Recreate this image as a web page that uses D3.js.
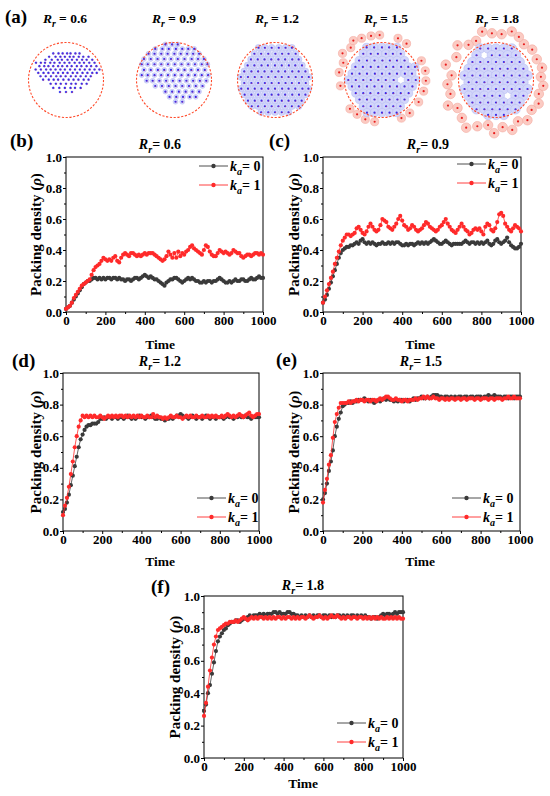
<!DOCTYPE html>
<html>
<head>
<meta charset="utf-8">
<script src="https://cdn.jsdelivr.net/npm/d3@7"></script>
<style>
  body { margin: 0; background: #fff; }
  svg text { font-family: "Liberation Serif", "Times New Roman", serif; font-weight: bold; fill: #000; }
</style>
</head>
<body>
<svg id="fig" width="550" height="796"></svg>
<script>
// ---- DATA ----
const times = [0,10,20,30,40,50,60,70,80,90,100,110,120,130,140,150,160,170,180,190,
  200,210,220,230,240,250,260,270,280,290,300,310,320,330,340,350,360,370,380,390,
  400,410,420,430,440,450,460,470,480,490,500,510,520,530,540,550,560,570,580,590,
  600,610,620,630,640,650,660,670,680,690,700,710,720,730,740,750,760,770,780,790,
  800,810,820,830,840,850,860,870,880,890,900,910,920,930,940,950,960,970,980,990,1000];

// packing density, k_a = 0 and k_a = 1, per R_r
const rho06_k0 = [0.02,0.03,0.04,0.06,0.08,0.10,0.12,0.14,0.16,0.18,
  0.19,0.20,0.20,0.21,0.22,0.22,0.21,0.22,0.21,0.22,
  0.21,0.22,0.22,0.21,0.22,0.22,0.21,0.22,0.21,0.21,
  0.20,0.21,0.21,0.20,0.21,0.22,0.22,0.21,0.22,0.23,
  0.24,0.23,0.22,0.23,0.22,0.21,0.21,0.20,0.19,0.18,
  0.17,0.19,0.20,0.21,0.21,0.22,0.22,0.21,0.20,0.19,
  0.20,0.21,0.22,0.21,0.22,0.21,0.20,0.20,0.19,0.19,
  0.20,0.19,0.20,0.20,0.19,0.20,0.20,0.21,0.22,0.21,
  0.20,0.19,0.19,0.20,0.19,0.20,0.21,0.20,0.20,0.21,
  0.21,0.20,0.20,0.21,0.22,0.21,0.21,0.22,0.23,0.22,0.22];
const rho06_k1 = [0.02,0.03,0.04,0.06,0.09,0.11,0.13,0.15,0.17,0.18,
  0.19,0.20,0.21,0.24,0.27,0.29,0.30,0.31,0.33,0.35,
  0.34,0.33,0.34,0.33,0.35,0.36,0.33,0.32,0.35,0.37,
  0.38,0.37,0.36,0.38,0.38,0.37,0.36,0.37,0.36,0.37,
  0.38,0.37,0.38,0.38,0.38,0.37,0.36,0.35,0.34,0.33,
  0.34,0.36,0.39,0.37,0.35,0.38,0.35,0.39,0.36,0.38,
  0.37,0.39,0.40,0.42,0.43,0.41,0.40,0.39,0.38,0.37,
  0.40,0.43,0.42,0.39,0.37,0.36,0.36,0.38,0.40,0.39,
  0.38,0.39,0.38,0.37,0.38,0.40,0.39,0.38,0.38,0.36,
  0.35,0.36,0.37,0.37,0.36,0.37,0.38,0.38,0.37,0.38,0.37];
const rho09_k0 = [0.06,0.08,0.11,0.15,0.19,0.23,0.27,0.31,0.35,0.38,
  0.40,0.41,0.42,0.42,0.43,0.43,0.44,0.45,0.44,0.46,
  0.47,0.45,0.44,0.45,0.44,0.45,0.44,0.43,0.44,0.44,
  0.45,0.44,0.44,0.45,0.44,0.45,0.44,0.45,0.45,0.44,
  0.43,0.43,0.44,0.43,0.44,0.44,0.43,0.44,0.45,0.44,
  0.45,0.44,0.45,0.44,0.45,0.46,0.47,0.46,0.45,0.44,
  0.44,0.45,0.46,0.45,0.44,0.43,0.44,0.44,0.44,0.44,
  0.44,0.45,0.46,0.45,0.44,0.45,0.45,0.44,0.45,0.44,
  0.45,0.44,0.45,0.46,0.44,0.43,0.44,0.46,0.47,0.45,
  0.44,0.45,0.46,0.48,0.45,0.43,0.42,0.41,0.41,0.42,0.44];
const rho09_k1 = [0.06,0.10,0.14,0.18,0.22,0.26,0.31,0.35,0.39,0.43,
  0.46,0.48,0.50,0.50,0.49,0.50,0.51,0.54,0.55,0.53,
  0.51,0.50,0.52,0.55,0.57,0.55,0.53,0.52,0.53,0.56,
  0.60,0.59,0.58,0.55,0.54,0.53,0.55,0.57,0.60,0.62,
  0.59,0.56,0.55,0.53,0.54,0.56,0.55,0.53,0.52,0.53,
  0.54,0.56,0.58,0.57,0.55,0.54,0.53,0.52,0.53,0.55,
  0.56,0.58,0.60,0.57,0.55,0.53,0.52,0.51,0.53,0.55,
  0.57,0.55,0.53,0.52,0.50,0.51,0.53,0.54,0.53,0.54,
  0.52,0.50,0.55,0.57,0.56,0.53,0.52,0.54,0.58,0.63,
  0.64,0.62,0.57,0.55,0.53,0.52,0.54,0.56,0.55,0.54,0.52];
const rho12_k0 = [0.12,0.14,0.18,0.23,0.29,0.35,0.41,0.47,0.53,0.58,
  0.61,0.64,0.66,0.67,0.67,0.68,0.68,0.68,0.69,0.71,
  0.71,0.72,0.71,0.72,0.72,0.71,0.72,0.72,0.71,0.72,
  0.72,0.71,0.72,0.73,0.72,0.71,0.72,0.71,0.72,0.73,
  0.72,0.72,0.71,0.72,0.72,0.73,0.72,0.71,0.71,0.72,
  0.71,0.71,0.70,0.71,0.71,0.72,0.71,0.72,0.73,0.73,
  0.74,0.73,0.72,0.72,0.71,0.72,0.73,0.72,0.71,0.72,
  0.72,0.71,0.72,0.73,0.72,0.71,0.72,0.72,0.71,0.72,
  0.72,0.72,0.71,0.72,0.73,0.72,0.72,0.71,0.72,0.72,
  0.73,0.72,0.72,0.73,0.72,0.72,0.71,0.72,0.72,0.72,0.72];
const rho12_k1 = [0.10,0.16,0.21,0.28,0.36,0.44,0.53,0.60,0.66,0.70,
  0.73,0.72,0.73,0.72,0.73,0.72,0.73,0.72,0.72,0.73,
  0.72,0.71,0.72,0.73,0.72,0.73,0.72,0.73,0.72,0.73,
  0.73,0.72,0.73,0.72,0.73,0.72,0.73,0.72,0.73,0.72,
  0.73,0.72,0.72,0.73,0.72,0.72,0.74,0.72,0.73,0.72,
  0.72,0.71,0.72,0.71,0.72,0.73,0.72,0.72,0.73,0.72,
  0.72,0.71,0.72,0.73,0.72,0.73,0.72,0.72,0.73,0.72,
  0.72,0.73,0.72,0.72,0.73,0.72,0.73,0.72,0.73,0.72,
  0.72,0.73,0.72,0.73,0.74,0.73,0.72,0.73,0.72,0.73,
  0.74,0.73,0.72,0.73,0.74,0.75,0.73,0.72,0.73,0.74,0.74];
const rho15_k0 = [0.20,0.24,0.30,0.38,0.44,0.51,0.60,0.66,0.71,0.75,
  0.79,0.80,0.81,0.81,0.82,0.81,0.82,0.82,0.83,0.83,
  0.83,0.84,0.83,0.82,0.83,0.82,0.81,0.82,0.83,0.82,
  0.83,0.84,0.83,0.84,0.83,0.83,0.82,0.83,0.82,0.83,
  0.83,0.82,0.83,0.83,0.82,0.83,0.84,0.83,0.84,0.84,
  0.85,0.84,0.84,0.85,0.84,0.85,0.86,0.86,0.86,0.85,
  0.85,0.84,0.85,0.85,0.84,0.85,0.84,0.85,0.84,0.85,
  0.85,0.84,0.85,0.85,0.84,0.85,0.85,0.84,0.85,0.85,
  0.85,0.84,0.85,0.85,0.86,0.85,0.85,0.86,0.85,0.85,
  0.85,0.84,0.85,0.85,0.84,0.85,0.85,0.84,0.85,0.85,0.85];
const rho15_k1 = [0.18,0.26,0.33,0.42,0.48,0.59,0.69,0.74,0.78,0.81,
  0.81,0.81,0.81,0.82,0.81,0.82,0.82,0.83,0.82,0.83,
  0.83,0.82,0.83,0.83,0.82,0.83,0.83,0.82,0.83,0.84,
  0.83,0.84,0.85,0.85,0.84,0.83,0.83,0.84,0.83,0.83,
  0.82,0.83,0.83,0.82,0.83,0.83,0.83,0.84,0.83,0.84,
  0.84,0.85,0.84,0.85,0.84,0.84,0.85,0.84,0.84,0.83,
  0.84,0.84,0.83,0.84,0.83,0.84,0.84,0.83,0.84,0.84,
  0.83,0.84,0.84,0.83,0.84,0.84,0.84,0.83,0.84,0.84,
  0.83,0.84,0.84,0.84,0.83,0.84,0.84,0.83,0.84,0.84,
  0.84,0.83,0.84,0.84,0.85,0.84,0.84,0.85,0.84,0.84,0.84];
const rho18_k0 = [0.29,0.33,0.40,0.45,0.52,0.59,0.66,0.72,0.75,0.77,
  0.79,0.80,0.82,0.83,0.84,0.84,0.85,0.85,0.84,0.85,
  0.86,0.86,0.87,0.88,0.87,0.88,0.88,0.88,0.89,0.88,
  0.89,0.88,0.89,0.89,0.89,0.90,0.90,0.89,0.90,0.89,
  0.89,0.89,0.90,0.90,0.89,0.89,0.88,0.88,0.87,0.88,
  0.87,0.88,0.87,0.88,0.87,0.88,0.87,0.88,0.88,0.87,
  0.88,0.88,0.87,0.88,0.87,0.88,0.87,0.88,0.88,0.87,
  0.88,0.87,0.88,0.87,0.88,0.88,0.87,0.88,0.87,0.88,
  0.87,0.88,0.87,0.87,0.86,0.87,0.87,0.86,0.87,0.88,
  0.89,0.88,0.89,0.89,0.88,0.89,0.90,0.89,0.90,0.90,0.90];
const rho18_k1 = [0.26,0.34,0.44,0.54,0.62,0.70,0.75,0.79,0.80,0.81,
  0.82,0.83,0.83,0.84,0.84,0.84,0.85,0.84,0.85,0.86,
  0.87,0.86,0.85,0.86,0.87,0.86,0.87,0.86,0.87,0.87,
  0.86,0.87,0.86,0.87,0.86,0.87,0.86,0.87,0.87,0.86,
  0.87,0.86,0.87,0.87,0.86,0.87,0.86,0.87,0.86,0.87,
  0.87,0.86,0.87,0.88,0.87,0.86,0.87,0.87,0.88,0.87,
  0.86,0.87,0.86,0.87,0.88,0.87,0.87,0.88,0.87,0.86,
  0.87,0.86,0.87,0.87,0.86,0.87,0.87,0.86,0.87,0.87,
  0.86,0.87,0.86,0.87,0.86,0.87,0.86,0.87,0.86,0.87,
  0.86,0.86,0.87,0.86,0.87,0.86,0.87,0.86,0.87,0.86,0.86];

const rrLabels = ["0.6", "0.9", "1.2", "1.5", "1.8"];
const xTicks = [0, 200, 400, 600, 800, 1000];
const xMinor = [100, 300, 500, 700, 900];
const yTicks = [0, 0.2, 0.4, 0.6, 0.8, 1.0];
const yMinor = [0.1, 0.3, 0.5, 0.7, 0.9];
const legendKa = ["0", "1"];

// snapshot particles, boundary radius = 1; rows: [y, x, x, ...]
const snap06 = [
  [-0.71, -0.34,-0.20,-0.09,0.03,0.12,0.25,0.36],
  [-0.62, -0.45,-0.28,-0.15,-0.03,0.10,0.20,0.34,0.46,0.60],
  [-0.54, -0.55,-0.38,-0.22,-0.11,0.04,0.16,0.29,0.43,0.55,0.70],
  [-0.46, -0.80,-0.67,-0.56,-0.42,-0.31,-0.17,-0.04,0.09,0.23,0.36,0.48,0.62,0.76],
  [-0.37, -0.71,-0.58,-0.47,-0.34,-0.21,-0.10,0.03,0.15,0.29,0.41,0.55,0.67,0.81],
  [-0.28, -0.81,-0.67,-0.53,-0.41,-0.28,-0.15,-0.03,0.11,0.24,0.37,0.50,0.63,0.76,0.89],
  [-0.19, -0.74,-0.60,-0.47,-0.34,-0.21,-0.08,0.04,0.18,0.30,0.44,0.57,0.70,0.82],
  [-0.10, -0.68,-0.54,-0.40,-0.26,-0.14,-0.01,0.13,0.26,0.39,0.53,0.66],
  [-0.01, -0.61,-0.46,-0.33,-0.21,-0.07,0.07,0.20,0.33,0.47,0.60],
  [0.10, -0.41,-0.27,-0.14,0.00,0.14,0.26,0.42,0.55],
  [0.21, -0.34,-0.18,-0.03,0.12,0.24,0.39],
  [0.32, -0.16,0.00,0.16]
];
const snap09 = [
  [-0.95, -0.23,-0.05,0.10],
  [-0.83, -0.50,-0.31,-0.14,0.05,0.22,0.38,0.54],
  [-0.70, -0.68,-0.52,-0.34,-0.17,0.01,0.18,0.35,0.51,0.67],
  [-0.56, -0.80,-0.62,-0.44,-0.26,-0.08,0.10,0.28,0.47,0.64,0.80],
  [-0.42, -0.86,-0.70,-0.52,-0.34,-0.16,0.02,0.20,0.38,0.56,0.74,0.89],
  [-0.27, -0.80,-0.62,-0.43,-0.26,-0.08,0.11,0.28,0.46,0.64,0.82],
  [-0.13, -0.86,-0.70,-0.52,-0.34,-0.16,0.02,0.20,0.38,0.56,0.74,0.91],
  [0.02, -0.73,-0.57,-0.39,-0.21,-0.03,0.15,0.33,0.51,0.69,0.86],
  [0.16, -0.50,-0.32,-0.14,0.04,0.22,0.40,0.58,0.76],
  [0.31, -0.23,-0.05,0.13,0.31,0.49,0.67],
  [0.45, -0.12,0.06,0.24,0.42,0.58],
  [0.58, 0.04,0.22]
];
const snap12 = [
  [-0.86, -0.44,-0.27,-0.09,0.10,0.28,0.45],
  [-0.70, -0.55,-0.37,-0.18,0.01,0.19,0.36,0.55],
  [-0.55, -0.64,-0.46,-0.28,-0.10,0.09,0.27,0.46,0.63],
  [-0.39, -0.73,-0.55,-0.36,-0.19,0.00,0.18,0.37,0.54,0.72],
  [-0.23, -0.82,-0.63,-0.45,-0.28,-0.09,0.09,0.27,0.46,0.63,0.81],
  [-0.08, -0.91,-0.72,-0.54,-0.36,-0.18,0.01,0.18,0.36,0.55,0.72,0.90],
  [0.08, -0.82,-0.63,-0.45,-0.27,-0.09,0.10,0.28,0.45,0.64,0.82],
  [0.23, -0.90,-0.72,-0.54,-0.36,-0.18,0.00,0.19,0.36,0.54,0.73,0.89],
  [0.39, -0.81,-0.63,-0.45,-0.27,-0.09,0.09,0.27,0.46,0.64,0.81],
  [0.55, -0.72,-0.54,-0.36,-0.18,0.00,0.18,0.36,0.54,0.71],
  [0.70, -0.62,-0.45,-0.27,-0.09,0.09,0.27,0.45,0.63],
  [0.86, -0.37,-0.18,0.00,0.18,0.36]
];
const snap15 = [
  [-0.87, -0.41,-0.21,0.00,0.19,0.40],
  [-0.70, -0.50,-0.30,-0.11,0.10,0.29,0.50],
  [-0.52, -0.61,-0.40,-0.20,0.01,0.21,0.40,0.60],
  [-0.35, -0.71,-0.51,-0.30,-0.10,0.11,0.30,0.51,0.70,0.88],
  [-0.17, -0.80,-0.60,-0.40,-0.19,0.00,0.20,0.40,0.61,0.80],
  [0.00, -0.90,-0.70,-0.50,-0.30,-0.10,0.10,0.31,0.70,0.90],
  [0.17, -0.80,-0.61,-0.40,-0.20,0.00,0.21,0.40,0.60,0.81],
  [0.35, -0.70,-0.50,-0.31,-0.10,0.10,0.30,0.50,0.71],
  [0.52, -0.60,-0.40,-0.20,0.00,0.20,0.41,0.60],
  [0.70, -0.50,-0.30,-0.10,0.11,0.30,0.49],
  [0.87, -0.40,-0.20,0.00,0.20,0.39]
];
const snap18 = [
  [-0.84, -0.42,-0.21,0.00,0.21,0.42],
  [-0.66, -0.52,-0.11,0.10,0.31,0.53],
  [-0.48, -0.63,-0.42,-0.21,0.00,0.21,0.42,0.63],
  [-0.30, -0.73,-0.52,-0.31,-0.10,0.11,0.31,0.52,0.73],
  [-0.12, -0.84,-0.63,-0.42,-0.21,0.00,0.21,0.42,0.63,0.84],
  [0.06, -0.73,-0.52,-0.31,-0.10,0.10,0.31,0.52,0.73],
  [0.24, -0.84,-0.63,-0.42,-0.21,0.00,0.21,0.42,0.63,0.84],
  [0.42, -0.73,-0.52,-0.31,-0.10,0.10,0.52,0.73],
  [0.60, -0.63,-0.42,-0.21,0.00,0.21,0.42,0.63],
  [0.78, -0.52,-0.31,-0.10,0.10,0.31,0.52],
  [0.93, -0.21,0.00,0.21]
];
// particles outside the boundary: [angle in degrees clockwise from top, radius]
const outer15 = [[-56,1.27],[-44,1.20],[-36,1.30],[-26,1.24],[-14,1.21],[-3,1.20],[21,1.19],
  [34,1.17],[64,1.17],[78,1.18],[91,1.17],[105,1.15],[121,1.14],[140,1.15],[153,1.14],
  [190,1.13],[203,1.14],[216,1.13],[228,1.15],[262,1.12],[280,1.16],[294,1.13]];
const outer18 = [[-5,1.25],[7,1.23],[18,1.36],[-16,1.34],[-27,1.17],[-38,1.19],[-48,1.38],
  [-60,1.22],[-73,1.40],[-84,1.19],[-95,1.30],[-107,1.27],[-118,1.45],[-126,1.27],[-138,1.36],
  [-148,1.50],[-158,1.33],[-170,1.22],[-178,1.42],[172,1.27],[162,1.40],[152,1.25],[142,1.36],
  [130,1.24],[119,1.30],[108,1.20],[97,1.27],[86,1.20],[75,1.27],[63,1.22],[50,1.26],[38,1.21],[28,1.30]];

// ---- LAYOUT ----
const svg = d3.select("#fig");
const black = "#3a3a3a", red = "#ff2a2a";

function symText(g, x, y, base, sub, rest, size, anchor) {
  const t = g.append("text").attr("x", x).attr("y", y)
    .attr("font-size", size).attr("text-anchor", anchor || "start");
  t.append("tspan").attr("font-style", "italic").text(base);
  t.append("tspan").attr("font-style", "italic").attr("font-size", size * 0.72)
    .attr("dy", size * 0.28).text(sub);
  t.append("tspan").attr("dy", -size * 0.28).text(rest);
  return t;
}

// (a) snapshots
svg.append("text").attr("x", 5).attr("y", 23).attr("font-size", 19).text("(a)");
const snapR = 37.5, snapCy = 80;
const snapshots = [
  {rows: snap06, outer: [], cx: 66, tx: 65, halo: 1.1},
  {rows: snap09, outer: [], cx: 174, tx: 174, halo: 2.4},
  {rows: snap12, outer: [], cx: 275, tx: 277, halo: 3.3},
  {rows: snap15, outer: outer15, cx: 382, tx: 386, halo: 4.1},
  {rows: snap18, outer: outer18, cx: 496, tx: 497, halo: 4.8}
];
snapshots.forEach((s, i) => {
  const g = svg.append("g");
  const sx = d3.scaleLinear().domain([-1, 1]).range([s.cx - snapR, s.cx + snapR]);
  const sy = d3.scaleLinear().domain([-1, 1]).range([snapCy - snapR, snapCy + snapR]);
  const pts = s.rows.flatMap(r => r.slice(1).map(x => [x, r[0]]));
  const out = s.outer.map(d => d3.pointRadial(d[0] * Math.PI / 180, d[1]));

  g.selectAll(".ohalo").data(out).join("circle")
    .attr("cx", d => sx(d[0])).attr("cy", d => sy(d[1])).attr("r", s.halo)
    .attr("fill", "#fbcbc3").attr("stroke", "#f4a89e").attr("stroke-width", 0.6);
  g.selectAll(".halo").data(pts).join("circle")
    .attr("cx", d => sx(d[0])).attr("cy", d => sy(d[1])).attr("r", s.halo)
    .attr("fill", "#d3d6fa").attr("stroke", "#b9bef4").attr("stroke-width", 0.6);
  g.append("circle").attr("cx", s.cx).attr("cy", snapCy).attr("r", snapR)
    .attr("fill", "none").attr("stroke", "#ff4a2a").attr("stroke-width", 1.1)
    .attr("stroke-dasharray", "2.2,1.6");
  g.selectAll(".odot").data(out).join("circle")
    .attr("cx", d => sx(d[0])).attr("cy", d => sy(d[1])).attr("r", 1.1)
    .attr("fill", "#e81c1c");
  g.selectAll(".dot").data(pts).join("circle")
    .attr("cx", d => sx(d[0])).attr("cy", d => sy(d[1])).attr("r", 1.1)
    .attr("fill", "#2a2af0");
  g.selectAll(".core").data(pts).join("circle")
    .attr("cx", d => sx(d[0]) + 0.5).attr("cy", d => sy(d[1]) + 0.3).attr("r", 0.5)
    .attr("fill", "#d8306a");

  symText(svg, s.tx, 23, "R", "r", " = " + rrLabels[i], 13.5, "middle");
});

// (b)-(f) time series
const panels = [
  {id: "(b)", k0: rho06_k0, k1: rho06_k1, x0: 66, x1: 263, y0: 157, y1: 312,
   lab: [10, 147], title: [160, 149], ylab: 41, xlab: [160, 349], leg: [199, 166]},
  {id: "(c)", k0: rho09_k0, k1: rho09_k1, x0: 323, x1: 521, y0: 157, y1: 312,
   lab: [269, 147], title: [428, 149], ylab: 299, xlab: [420, 349], leg: [457, 164]},
  {id: "(d)", k0: rho12_k0, k1: rho12_k1, x0: 63, x1: 259, y0: 373, y1: 531,
   lab: [12, 367], title: [160, 366], ylab: 41, xlab: [160, 566], leg: [197, 498]},
  {id: "(e)", k0: rho15_k0, k1: rho15_k1, x0: 323, x1: 520, y0: 373, y1: 531,
   lab: [276, 366], title: [421, 366], ylab: 299, xlab: [420, 566], leg: [452, 498]},
  {id: "(f)", k0: rho18_k0, k1: rho18_k1, x0: 204, x1: 403, y0: 596, y1: 758,
   lab: [151, 593], title: [303, 590], ylab: 180, xlab: [303, 788], leg: [337, 723]}
];

function styleAxis(a) {
  a.select(".domain").remove();
  a.attr("font-family", null).attr("font-size", null);
  a.selectAll("line").attr("stroke", "#000");
  a.selectAll("text").attr("font-size", 13).attr("fill", "#000");
}

panels.forEach((p, i) => {
  const g = svg.append("g");
  const x = d3.scaleLinear().domain([0, 1000]).range([p.x0, p.x1]);
  const y = d3.scaleLinear().domain([0, 1]).range([p.y1, p.y0]);

  g.append("g").attr("transform", `translate(0,${p.y1})`)
    .call(d3.axisBottom(x).tickValues(xTicks).tickSize(3).tickPadding(1).tickFormat(d3.format("d")))
    .call(styleAxis);
  g.append("g").attr("transform", `translate(0,${p.y1})`)
    .call(d3.axisBottom(x).tickValues(xMinor).tickSize(2).tickFormat(""))
    .call(styleAxis);
  g.append("g").attr("transform", `translate(${p.x0},0)`)
    .call(d3.axisLeft(y).tickValues(yTicks).tickSize(3).tickPadding(1).tickFormat(d3.format(".1f")))
    .call(styleAxis);
  g.append("g").attr("transform", `translate(${p.x0},0)`)
    .call(d3.axisLeft(y).tickValues(yMinor).tickSize(2).tickFormat(""))
    .call(styleAxis);

  g.append("rect").attr("x", p.x0).attr("y", p.y0)
    .attr("width", p.x1 - p.x0).attr("height", p.y1 - p.y0)
    .attr("fill", "none").attr("stroke", "#000").attr("stroke-width", 1);

  const line = d3.line().x((d, j) => x(times[j])).y(d => y(d));
  [[p.k0, black], [p.k1, red]].forEach(([vals, col]) => {
    g.append("path").datum(vals).attr("d", line)
      .attr("fill", "none").attr("stroke", col).attr("stroke-width", 0.8);
    g.selectAll(null).data(vals).join("circle")
      .attr("cx", (d, j) => x(times[j])).attr("cy", d => y(d)).attr("r", 2.1)
      .attr("fill", col);
  });

  // legend
  [black, red].forEach((col, j) => {
    const ly = p.leg[1] + j * 19;
    g.append("line").attr("x1", p.leg[0]).attr("x2", p.leg[0] + 29)
      .attr("y1", ly).attr("y2", ly).attr("stroke", col).attr("stroke-width", 0.9);
    g.append("circle").attr("cx", p.leg[0] + 14.5).attr("cy", ly).attr("r", 2.2).attr("fill", col);
    symText(g, p.leg[0] + 31, ly + 5, "k", "a", "= " + legendKa[j], 14, "start");
  });

  g.append("text").attr("x", p.lab[0]).attr("y", p.lab[1]).attr("font-size", 19).text(p.id);
  symText(g, p.title[0], p.title[1], "R", "r", "= " + rrLabels[i], 14, "middle");
  g.append("text").attr("x", p.xlab[0]).attr("y", p.xlab[1])
    .attr("font-size", 13.5).attr("text-anchor", "middle").text("Time");
  const yl = g.append("text")
    .attr("transform", `translate(${p.ylab},${(p.y0 + p.y1) / 2}) rotate(-90)`)
    .attr("font-size", 15).attr("text-anchor", "middle");
  yl.append("tspan").text("Packing density (");
  yl.append("tspan").attr("font-style", "italic").text("ρ");
  yl.append("tspan").text(")");
});
</script>
</body>
</html>
